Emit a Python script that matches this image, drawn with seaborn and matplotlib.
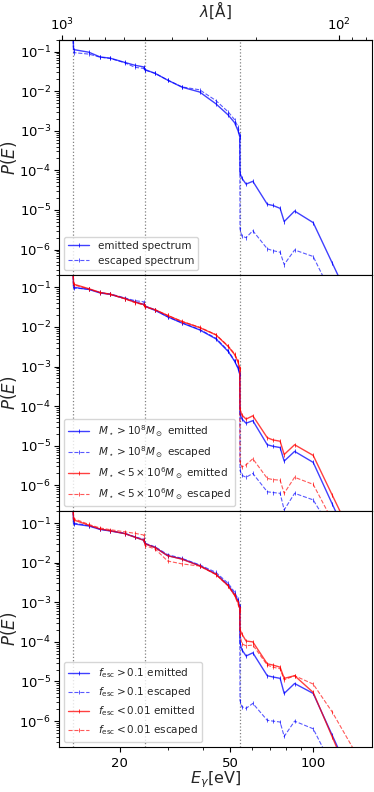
import numpy as np
import matplotlib
matplotlib.use("Agg")
import matplotlib.pyplot as plt
import matplotlib.ticker as mticker
import seaborn as sns

# -----------------------------------------------------------------------------
# DATOS (leídos a ojo de la figura)
# -----------------------------------------------------------------------------
E_lo = [13.6, 13.65, 15.5, 17.0, 18.5, 20.9, 22.7, 24.4, 24.7, 26.9, 29.8,
        33.6, 38.9, 44.5, 49.3, 52.0, 53.5, 54.3]
E_hi = [54.4, 55.2, 57.2, 60.5, 68.2, 71.5, 75.9, 78.5, 85.6, 99.9, 117.0, 140.0]
energy = E_lo + E_hi

# panel 1: todas las galaxias
all_emit = [0.22, 0.112, 0.096, 0.073, 0.068, 0.053, 0.045, 0.041, 0.035, 0.028, 0.019,
            0.0126, 0.0095, 0.0048, 0.0025, 0.0016, 0.0010, 0.0007,
            8.5e-5, 6.4e-5, 4.5e-5, 5.3e-5, 1.4e-5, 1.3e-5, 1.1e-5, 5.1e-6, 9.4e-6, 4.8e-6, 4.6e-7, 3.2e-8]
all_esc = [0.2, 0.094, 0.086, 0.072, 0.067, 0.052, 0.040, 0.0375, 0.034, 0.028, 0.019,
           0.0128, 0.0108, 0.0058, 0.0030, 0.0019, 0.00125, 0.0008,
           3.3e-6, 2.2e-6, 2.0e-6, 3.0e-6, 1.05e-6, 9.4e-7, 8.6e-7, 4.2e-7, 9.8e-7, 6.7e-7, 7.1e-8, 5.5e-9]

# panel 2: masa estelar
hiM_emit = [0.22, 0.10, 0.088, 0.072, 0.066, 0.052, 0.043, 0.037, 0.033, 0.026, 0.018,
            0.0125, 0.0084, 0.0050, 0.0024, 0.00136, 0.0009, 0.00063,
            6.3e-5, 4.8e-5, 3.7e-5, 4.3e-5, 1.06e-5, 9.7e-6, 9.0e-6, 4.1e-6, 7.2e-6, 3.8e-6, 3.4e-7, 2.2e-8]
hiM_esc = [0.2, 0.095, 0.09, 0.074, 0.068, 0.054, 0.046, 0.043, 0.034, 0.027, 0.018,
           0.0127, 0.0086, 0.0052, 0.0025, 0.0014, 0.00093, 0.00065,
           2.4e-6, 1.8e-6, 1.6e-6, 2.0e-6, 6.9e-7, 6.6e-7, 6.3e-7, 2.4e-7, 6.3e-7, 4.3e-7, 7e-8, 9e-9]
loM_emit = [0.22, 0.12, 0.092, 0.074, 0.067, 0.052, 0.042, 0.037, 0.033, 0.027, 0.0195,
            0.0136, 0.0096, 0.0063, 0.0032, 0.0020, 0.0013, 0.00085,
            8.4e-5, 6.0e-5, 4.7e-5, 5.7e-5, 1.6e-5, 1.4e-5, 1.3e-5, 6.0e-6, 1.06e-5, 5.7e-6, 5.7e-7, 4.2e-8]
loM_esc = [0.2, 0.115, 0.090, 0.073, 0.066, 0.051, 0.041, 0.036, 0.032, 0.027, 0.0195,
           0.0138, 0.0098, 0.0064, 0.0033, 0.0021, 0.00135, 0.0009,
           3.9e-6, 2.9e-6, 3.3e-6, 4.7e-6, 1.5e-6, 1.4e-6, 1.35e-6, 6.3e-7, 1.6e-6, 1.06e-6, 1.3e-7, 1.2e-8]

# panel 3: fracción de escape
hiF_emit = [0.22, 0.095, 0.084, 0.069, 0.063, 0.054, 0.044, 0.037, 0.030, 0.024, 0.015,
            0.0124, 0.0084, 0.0052, 0.0027, 0.0016, 0.0011, 0.00077,
            9.4e-5, 6.4e-5, 4.4e-5, 5.3e-5, 1.4e-5, 1.3e-5, 1.2e-5, 5.0e-6, 8.9e-6, 5.0e-6, 4.4e-7, 2.8e-8]
hiF_esc = [0.2, 0.1, 0.086, 0.07, 0.064, 0.055, 0.045, 0.039, 0.031, 0.025, 0.016,
           0.0128, 0.0088, 0.0057, 0.0030, 0.0018, 0.0012, 0.0008,
           3.3e-6, 2.3e-6, 2.1e-6, 2.8e-6, 1.05e-6, 1.0e-6, 9.5e-7, 4.1e-7, 1.0e-6, 6.4e-7, 7.3e-8, 6e-9]
loF_emit = [0.22, 0.12, 0.088, 0.071, 0.064, 0.054, 0.044, 0.037, 0.030, 0.024, 0.015,
            0.0122, 0.0083, 0.0051, 0.0026, 0.0015, 0.0010, 0.0007,
            2.0e-4, 1.6e-4, 1.05e-4, 1.0e-4, 2.8e-5, 2.6e-5, 2.3e-5, 1.2e-5, 1.4e-5, 5.3e-6, 4e-7, 2.1e-8]
loF_esc = [0.2, 0.13, 0.092, 0.075, 0.068, 0.060, 0.055, 0.050, 0.027, 0.022, 0.011,
           0.0093, 0.0082, 0.0050, 0.0026, 0.0015, 0.0009, 0.0006,
           1.6e-4, 8.9e-5, 8.0e-5, 8.3e-5, 2.6e-5, 2.3e-5, 2.1e-5, 1.1e-5, 1.4e-5, 8.6e-6, 1.7e-6, 1.9e-7]

edges = [13.6, 24.6, 54.4]  # umbrales de ionización H, He I, He II
y_major = [1e-6, 1e-5, 1e-4, 1e-3, 1e-2, 1e-1]
lam_major = [1000, 100]

panels = [
    [(all_emit, "b", "-", "emitted spectrum"),
     (all_esc, "b", "--", "escaped spectrum")],
    [(hiM_emit, "b", "-", r"$M_\star>10^8M_\odot$ emitted"),
     (hiM_esc, "b", "--", r"$M_\star>10^8M_\odot$ escaped"),
     (loM_emit, "r", "-", r"$M_\star<5\times10^6M_\odot$ emitted"),
     (loM_esc, "r", "--", r"$M_\star<5\times10^6M_\odot$ escaped")],
    [(hiF_emit, "b", "-", r"$f_{\rm esc}>0.1$ emitted"),
     (hiF_esc, "b", "--", r"$f_{\rm esc}>0.1$ escaped"),
     (loF_emit, "r", "-", r"$f_{\rm esc}<0.01$ emitted"),
     (loF_esc, "r", "--", r"$f_{\rm esc}<0.01$ escaped")],
]

# -----------------------------------------------------------------------------
# FIGURA
# -----------------------------------------------------------------------------
sns.set_style("ticks")
plt.rcParams["font.family"] = ["DejaVu Sans"]
plt.rcParams["axes.edgecolor"] = "black"
plt.rcParams["xtick.color"] = "black"
plt.rcParams["ytick.color"] = "black"

fig, axes = plt.subplots(3, 1, figsize=(3.74, 7.92), dpi=100, sharex=True)
fig.subplots_adjust(left=0.158, right=0.995, top=0.95, bottom=0.057, hspace=0)


def to_lam(x):
    x = np.asarray(x, dtype=float)
    with np.errstate(divide="ignore"):
        return 12398.4 / np.where(x == 0, 1e-12, x)


for ax, series in zip(axes, panels):
    for e in edges:
        ax.axvline(e, color="gray", ls=":", lw=0.9, zorder=0)
    for vals, col, ls, lab in series:
        solid = ls == "-"
        sns.lineplot(
            x=energy, y=vals, ax=ax, color=col, linestyle=ls,
            lw=1.0 if solid else 0.8, alpha=0.75 if solid else 0.65,
            marker="|", markersize=3.5, markeredgewidth=0.7,
            markeredgecolor=col, markerfacecolor=col,
            estimator=None, sort=False, label=lab,
        )
    ax.set_xscale("log")
    ax.set_yscale("log")
    ax.set_xlim(12.1, 163)
    ax.set_ylim(2.24e-7, 0.2)
    ax.yaxis.set_major_locator(mticker.FixedLocator(y_major))
    ax.yaxis.set_major_formatter(mticker.LogFormatterSciNotation())
    ax.yaxis.set_minor_locator(mticker.LogLocator(base=10, subs=np.arange(2, 10) * 1.0, numticks=20))
    ax.yaxis.set_minor_formatter(mticker.NullFormatter())
    ax.set_ylabel(r"$P(E)$", fontsize=12)
    ax.yaxis.set_label_coords(-0.128, 0.5)
    ax.tick_params(axis="both", labelsize=9.5)
    ax.tick_params(axis="y", pad=2)
    ax.tick_params(which="minor", length=2)
    ax.legend(loc="lower left", fontsize=7.5, framealpha=0.8)

axes[-1].set_xticks([20, 50, 100])
axes[-1].xaxis.set_major_formatter(mticker.FixedFormatter(["20", "50", "100"]))
axes[-1].xaxis.set_minor_formatter(mticker.NullFormatter())
axes[-1].set_xlabel(r"$E_\gamma$[eV]", fontsize=11.5, labelpad=0)

top = axes[0].secondary_xaxis("top", functions=(to_lam, to_lam))
top.xaxis.set_major_locator(mticker.FixedLocator(lam_major))
top.xaxis.set_major_formatter(mticker.LogFormatterSciNotation())
top.xaxis.set_minor_formatter(mticker.NullFormatter())
top.tick_params(labelsize=9.5, pad=1)
top.tick_params(which="minor", length=2)
top.set_xlabel(r"$\lambda$[Å]", fontsize=11, labelpad=0)

fig.savefig("out.png", dpi=100)
